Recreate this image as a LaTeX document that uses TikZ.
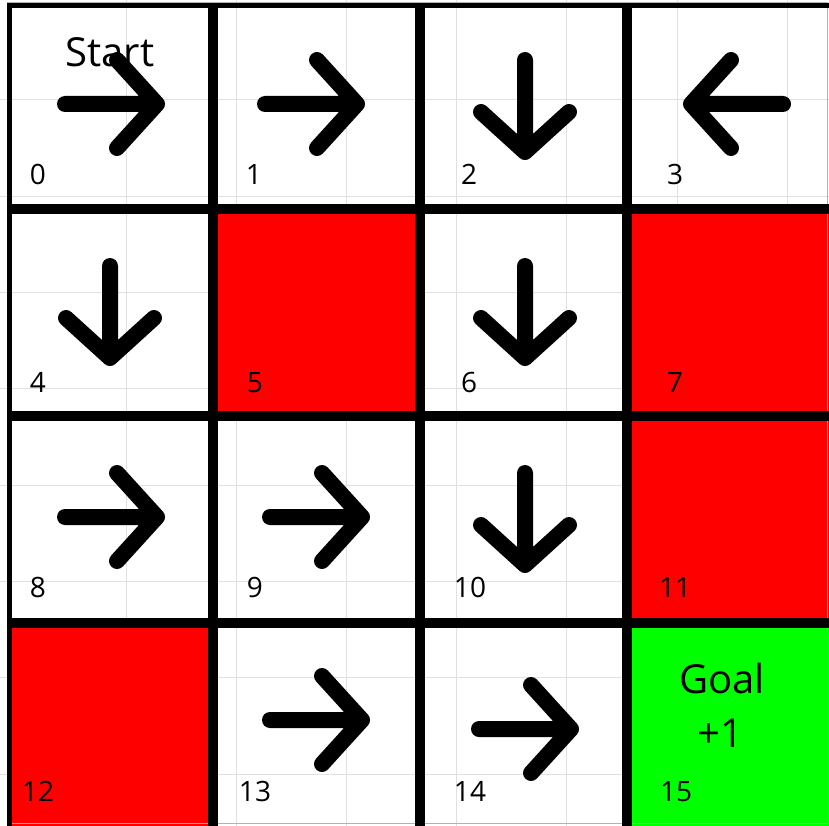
\documentclass[tikz,border=0pt]{standalone}
\usepackage{fontspec}
\setmainfont{Open Sans}
\usetikzlibrary{calc}

\begin{document}
\begin{tikzpicture}[
  x=1pt, y=-1pt,
  wall/.style={line width=10pt},
  move/.style={line width=16pt,line cap=round,line join=round},
  tick/.style={black!12,line width=1pt},
  idx/.style={anchor=base,font=\fontsize{28}{30}\selectfont},
  tag/.style={anchor=base,font=\fontsize{40}{44}\selectfont}
]
  \useasboundingbox (0,0) rectangle (829,826);
  \fill[white] (0,0) rectangle (829,826);
  % faint grid behind the board
  \foreach \k in {0,...,6}
    \draw[tick] (126+110.2*\k,0) -- (126+110.2*\k,826);
  \foreach \k in {0,...,7}
    \draw[tick] (0,100+96.3*\k) -- (829,100+96.3*\k);
  % holes and goal
  \foreach \cx/\cy in {213/209.5,627/209.5,627/416,7/622.5}
    \fill[red] (\cx,\cy) rectangle ++(206.6,206.6);
  \fill[green] (627,622.5) rectangle (829,826);
  \draw[black!30,line width=1pt] (7,2.5) rectangle (827.5,823.5);
  % walls
  \fill (7,3) rectangle (12,826);
  \fill (7,3) rectangle (829,8);
  \foreach \x in {213,420,627}
    \draw[wall] (\x,3) -- (\x,826);
  \foreach \y in {209.5,416,622.5}
    \draw[wall] (7,\y) -- (829,\y);
  % policy arrows
  \foreach \cell/\ax/\ay/\dx/\dy in {0/111/104/1/0,1/311/104/1/0,2/525/106/0/1,3/737/104/-1/0,
      4/110/312/0/1,6/525/312/0/1,8/111/517/1/0,9/316/517/1/0,10/525/519/0/1,
      13/316/720/1/0,14/525/729/1/0}{
    \coordinate (a\cell) at (\ax,\ay);
    \draw[move] ($(a\cell)-(46*\dx,46*\dy)$) -- ($(a\cell)+(46*\dx,46*\dy)$)
      ($(a\cell)+(6*\dx+44*\dy,6*\dy+44*\dx)$) -- ($(a\cell)+(46*\dx,46*\dy)$)
      -- ($(a\cell)+(6*\dx-44*\dy,6*\dy-44*\dx)$);
  }
  % state numbers
  \foreach \i/\lx/\ly in {0/38/185,1/254/185,2/469/185,3/675/185,
      4/38/392,5/255/392,6/469/392,7/675/392,
      8/38/597,9/255/597,10/470/597,11/675/597,
      12/38/801,13/255/801,14/470/801,15/676/801}
    \node[idx] (n\i) at (\lx,\ly) {\i};
  \node[tag] (start) at (110,67) {Start};
  \node[tag] (goal) at (722,693) {Goal};
  \node[tag] (reward) at (720,747) {+1};
\end{tikzpicture}
\end{document}
